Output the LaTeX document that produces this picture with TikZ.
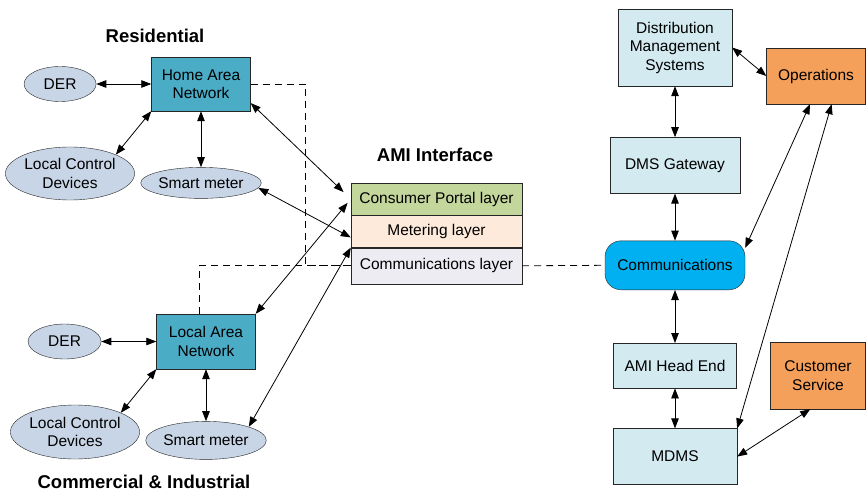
\documentclass[tikz,border=0pt]{standalone}
\usepackage{fontspec}
\setmainfont{Liberation Sans}
\usepackage{xcolor}
\definecolor{EllGray}{HTML}{C8D5E6}
\definecolor{NetTeal}{HTML}{4BACC6}
\definecolor{SysBlue}{HTML}{D3EAF1}
\definecolor{CommBlue}{HTML}{00B0F0}
\definecolor{OpsOrange}{HTML}{F5A05A}
\definecolor{PortalGreen}{HTML}{C3D69B}
\definecolor{MeterPeach}{HTML}{FDEADA}
\definecolor{LayerLilac}{HTML}{EEECF3}
\definecolor{EdgeDark}{HTML}{262626}
\usetikzlibrary{arrows.meta,positioning,shapes.geometric,calc}

\begin{document}
\begin{tikzpicture}[x=1pt,y=1pt,>={Triangle[length=10pt,width=7.5pt]},
font=\fontsize{15.5}{18.5}\selectfont,
device/.style={ellipse,draw=EdgeDark,fill=EllGray,inner sep=0pt,align=center},
netbox/.style={draw=EdgeDark,fill=NetTeal,inner sep=0pt,minimum width=99pt,minimum height=55pt,align=center},
sysbox/.style={draw=EdgeDark,fill=SysBlue,inner sep=0pt,align=center},
opsbox/.style={draw=EdgeDark,fill=OpsOrange,inner sep=0pt,align=center},
layer/.style={draw=EdgeDark,inner sep=0pt,minimum width=171pt,minimum height=32pt},
heading/.style={font=\fontsize{18.5}{22}\selectfont\bfseries},
link/.style={<->,line width=0.8pt},
dashline/.style={line width=0.8pt,dash pattern=on 7pt off 5pt}]
\useasboundingbox (0,0) rectangle (866,-494);
\node[heading] (restitle) at (155,-36) {Residential};
\node[netbox,minimum height=54pt] (han) at (201,-84) {Home Area\\Network};
\node[device,left=55pt of han,minimum width=72pt,minimum height=35pt] (der1) {DER};
\node[device,minimum width=126pt,minimum height=53pt] (lcd1) at (70,-173.5) {Local Control\\Devices};
\node[device,below=56pt of han,minimum width=116pt,minimum height=31pt] (sm1) {Smart meter};
\node[netbox] (lan) at (206,-341.5) {Local Area\\Network};
\node[device,left=55pt of lan,minimum width=73pt,minimum height=35pt] (der2) {DER};
\node[device,minimum width=126pt,minimum height=54pt] (lcd2) at (75,-432) {Local Control\\Devices};
\node[device,below=52pt of lan,minimum width=118pt,minimum height=38pt] (sm2) {Smart meter};
\node[heading] (cititle) at (144,-482) {Commercial \& Industrial};
\node[heading] (amititle) at (435,-155) {AMI Interface};
\node[layer,fill=PortalGreen] (cpl) at (436.5,-199) {Consumer Portal layer};
\node[layer,fill=MeterPeach,below=0pt of cpl] (met) {Metering layer};
\node[layer,fill=LayerLilac,below=0pt of met,minimum height=36pt] (comml) {Communications layer};
\node[sysbox,minimum width=114pt,minimum height=77pt] (dms) at (675,-47.5) {Distribution\\Management\\Systems};
\node[sysbox,below=51pt of dms,minimum width=130pt,minimum height=56pt] (dmsg) {DMS Gateway};
\node[draw=EdgeDark,fill=CommBlue,rounded corners=16pt,inner sep=0pt,below=47pt of dmsg,minimum width=140pt,minimum height=49pt] (comm) {Communications};
\node[sysbox,below=53pt of comm,minimum width=123pt,minimum height=45pt] (ahe) {AMI Head End};
\node[sysbox,below=40pt of ahe,minimum width=124pt,minimum height=56pt] (mdms) {MDMS};
\node[opsbox,minimum width=99pt,minimum height=56pt] (ops) at (816,-76) {Operations};
\node[opsbox,minimum width=95pt,minimum height=67pt] (cs) at (818,-375.5) {Customer\\Service};
\draw[dashline] (han.east) -| ([xshift=-45pt]comml.west) -- (comml.west);
\draw[dashline] ([xshift=-7pt]lan.north) |- (comml.west);
\draw[dashline] (comml.east) -- (comm.west);
\draw[link] (der1) -- (han);
\draw[link] (lcd1.north east) -- (han.south west);
\draw[link] (han) -- (sm1);
\draw[link,shorten >=10pt] (han.-21) -- (cpl.west);
\draw[link] (sm1.-5) -- ([yshift=-6pt]met.west);
\draw[link] (der2) -- (lan);
\draw[link] (lcd2.north east) -- (lan.south west);
\draw[link] (lan) -- (sm2);
\draw[link,shorten >=5pt] (lan.north east) -- (cpl.west);
\draw[link] (sm2.north east) -- (met.south west);
\draw[link] (dms) -- (dmsg);
\draw[link] (dmsg) -- (comm);
\draw[link] (comm) -- (ahe);
\draw[link] (ahe) -- (mdms);
\draw[link] (dms.east) -- (ops.west);
\draw[link] (ops.-102) -- (comm.14);
\draw[link] (ops.-61) -- (mdms.north east);
\draw[link] (cs.-103) -- (mdms.east);
\end{tikzpicture}
\end{document}
